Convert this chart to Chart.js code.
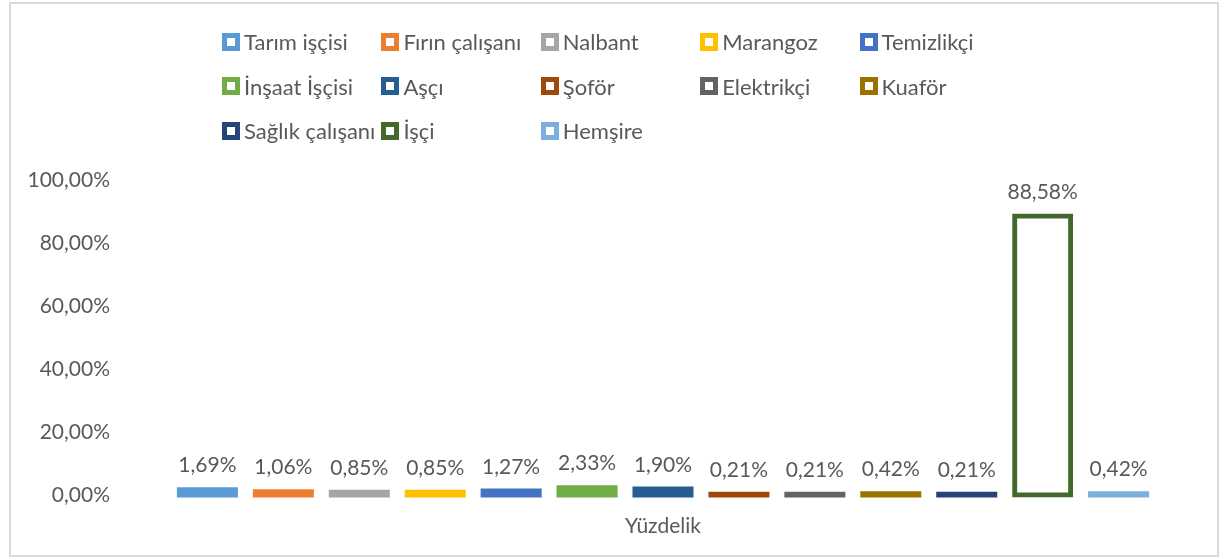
<!DOCTYPE html>
<html>
<head>
<meta charset="utf-8">
<script src="https://cdn.jsdelivr.net/npm/chart.js@4.4.1/dist/chart.umd.min.js"></script>
<style>
    body { margin: 0; background: #fff; }
    #wrap { position: relative; width: 1220px; height: 557px; }
    #chart { position: absolute; left: 0; top: 0; }
    #frame { position: absolute; left: 9px; top: 2px; width: 1210px; height: 555px; border: 2px solid #d9d9d9; box-sizing: border-box; pointer-events: none; }
    #legend { position: absolute; left: 0; top: 0; }
    .item { position: absolute; display: flex; align-items: center; height: 30px; }
    .box { width: 18px; height: 18px; border: 5px solid; box-sizing: border-box; background: #fff; }
    .txt { margin-left: 4px; font: 22px Lato; color: #595959; white-space: nowrap; }
</style>
</head>
<body>
<div id="wrap">
    <canvas id="chart" width="1220" height="557"></canvas>
    <div id="legend"></div>
    <div id="frame"></div>
</div>
<script>
const categories = ['Yüzdelik'];
const jobs = ['Tarım işçisi', 'Fırın çalışanı', 'Nalbant', 'Marangoz', 'Temizlikçi',
    'İnşaat İşçisi', 'Aşçı', 'Şoför', 'Elektrikçi', 'Kuaför',
    'Sağlık çalışanı', 'İşçi', 'Hemşire'];
const percentages = [1.69, 1.06, 0.85, 0.85, 1.27, 2.33, 1.90, 0.21, 0.21, 0.42, 0.21, 88.58, 0.42];
const jobColors = ['#5B9BD5', '#ED7D31', '#A5A5A5', '#FFC000', '#4472C4',
    '#70AD47', '#255E91', '#9E480E', '#636363', '#997300',
    '#264478', '#43682B', '#7CAFDD'];
const yTicks = [0, 20, 40, 60, 80, 100];

const textColor = '#595959';
Chart.defaults.font.family = 'Lato';

function formatPercent(v) {
    return v.toFixed(2).replace('.', ',') + '%';
}

// tall bars get a white inside, short ones are just the colour
function isHollow(ctx) {
    const y = ctx.chart.scales.y;
    if (!y || ctx.parsed === undefined) return false;
    return y.getPixelForValue(0) - y.getPixelForValue(ctx.parsed.y) >= 10;
}

function buildJobDatasets() {
    return jobs.map((job, i) => ({
        label: job,
        data: [percentages[i]],
        backgroundColor: ctx => isHollow(ctx) ? '#ffffff' : jobColors[i],
        borderColor: jobColors[i],
        borderWidth: ctx => isHollow(ctx) ? 5 : 0,
        borderSkipped: false,
        inflateAmount: 2.5,
        clip: false,
        barPercentage: 0.738,
        categoryPercentage: 0.926
    }));
}

const barValueLabels = {
    id: 'barValueLabels',
    afterDatasetsDraw(chart) {
        const ctx = chart.ctx;
        ctx.save();
        ctx.font = '21px Lato';
        ctx.fillStyle = textColor;
        ctx.textAlign = 'center';
        ctx.textBaseline = 'middle';
        chart.data.datasets.forEach((ds, i) => {
            chart.getDatasetMeta(i).data.forEach((bar, j) => {
                ctx.fillText(formatPercent(ds.data[j]), bar.x, bar.y - 24);
            });
        });
        ctx.restore();
    }
};

function buildLegend(chart) {
    const legend = document.getElementById('legend');
    chart.data.datasets.forEach((ds, i) => {
        const item = document.createElement('div');
        item.className = 'item';
        item.style.left = (222 + (i % 5) * 159.4) + 'px';
        item.style.top = (41.5 + Math.floor(i / 5) * 44.5 - 15) + 'px';
        const box = document.createElement('span');
        box.className = 'box';
        box.style.borderColor = ds.borderColor;
        const txt = document.createElement('span');
        txt.className = 'txt';
        txt.textContent = ds.label;
        item.appendChild(box);
        item.appendChild(txt);
        legend.appendChild(item);
    });
}

const chartCtx = document.getElementById('chart').getContext('2d');
const chart = new Chart(chartCtx, {
    type: 'bar',
    data: {
        labels: categories,
        datasets: buildJobDatasets()
    },
    options: {
        responsive: false,
        animation: false,
        layout: {
            padding: { top: 180, right: 24, bottom: 22, left: 0 }
        },
        plugins: {
            legend: { display: false },
            tooltip: { enabled: false }
        },
        scales: {
            x: {
                grid: { display: false, drawTicks: false },
                border: { display: false },
                ticks: { color: textColor, font: { size: 21 }, padding: 19 },
                afterFit: scale => { scale.height = 40; }
            },
            y: {
                min: yTicks[0],
                max: yTicks[yTicks.length - 1],
                afterBuildTicks: scale => { scale.ticks = yTicks.map(v => ({ value: v })); },
                grid: { display: false, drawTicks: false },
                border: { display: false },
                ticks: {
                    color: textColor,
                    font: { size: 21 },
                    padding: 20,
                    callback: v => formatPercent(v)
                },
                afterFit: scale => { scale.width = 130; }
            }
        }
    },
    plugins: [barValueLabels]
});

buildLegend(chart);
</script>
</body>
</html>
